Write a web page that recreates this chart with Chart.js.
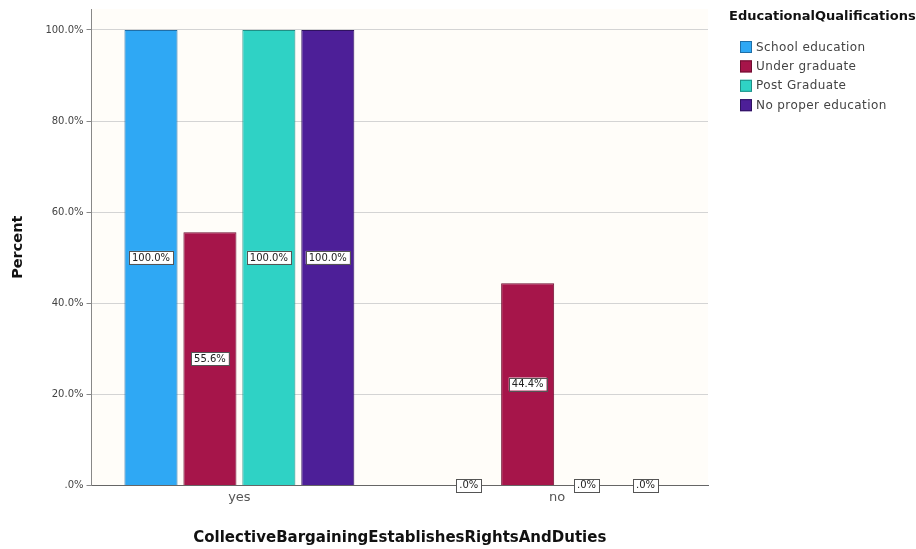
<!DOCTYPE html>
<html>
<head>
<meta charset="utf-8">
<script src="https://cdn.jsdelivr.net/npm/chart.js@4.4.1/dist/chart.umd.min.js"></script>
<style>
  html, body { margin: 0; padding: 0; background: #fff; }
  #wrap { width: 916px; height: 549px; }
</style>
</head>
<body>
<div id="wrap"><canvas id="grafico" width="916" height="549"></canvas></div>
<script>
const categorias = ['yes', 'no'];
const escolar = [100, 0];
const graduacao = [55.6, 44.4];
const posGraduacao = [100, 0];
const semEducacao = [100, 0];
const ticksY = [0, 20, 40, 60, 80, 100];

const cores = ['#2fa8f4', '#a6154a', '#2fd2c5', '#4d1f98'];
const bordas = ['#1f6fa8', '#6e0e30', '#1f8f86', '#2f1260'];
const fonte = '"DejaVu Sans", Verdana, sans-serif';

function formatar(v) {
  if (v === 0) return '.0%';
  return v.toFixed(1) + '%';
}

// o SPSS nao centraliza as categorias igual ao chart.js, entao
// esticamos um pouco a faixa do eixo x (so as posicoes, a linha fica igual)
const ajusteX = {
  id: 'ajusteX',
  afterLayout(chart) {
    const x = chart.scales.x;
    x._startPixel = x.left - 11;
    x._length = (x.right - x.left) + 19;
    x._endPixel = x._startPixel + x._length;
  }
};

// legenda desenhada a mao, no estilo SPSS
const legendaSpss = {
  id: 'legendaSpss',
  afterDraw(chart) {
    const c = chart.ctx;
    c.save();
    c.font = 'bold 13px ' + fonte;
    c.fillStyle = '#111';
    c.textBaseline = 'middle';
    c.textAlign = 'left';
    c.fillText('EducationalQualifications', 729, 17);
    c.font = '12px ' + fonte;
    c.letterSpacing = '0.4px';
    chart.data.datasets.forEach((ds, i) => {
      const y = 47 + i * 19.4;
      c.fillStyle = ds.backgroundColor;
      c.fillRect(740, y - 6, 12, 12);
      c.strokeStyle = ds.borderColor;
      c.lineWidth = 1;
      c.strokeRect(740.5, y - 5.5, 11, 11);
      c.fillStyle = '#444';
      c.fillText(ds.label, 756, y + 0.5);
    });
    c.restore();
  }
};

// rotulos com caixa branca no meio da barra
const rotulos = {
  id: 'rotulos',
  afterDatasetsDraw(chart) {
    const c = chart.ctx;
    c.save();
    c.font = '10px ' + fonte;
    c.textAlign = 'center';
    c.textBaseline = 'middle';
    chart.data.datasets.forEach((ds, i) => {
      chart.getDatasetMeta(i).data.forEach((bar, j) => {
        const txt = formatar(ds.data[j]);
        const y = (bar.y + bar.base) / 2;
        const w = c.measureText(txt).width + 6;
        const h = 13;
        c.fillStyle = '#fff';
        c.fillRect(bar.x - w / 2, y - h / 2, w, h);
        c.strokeStyle = '#555';
        c.lineWidth = 1;
        c.strokeRect(Math.round(bar.x - w / 2) + 0.5, Math.round(y - h / 2) + 0.5, Math.round(w), h);
        c.fillStyle = '#222';
        c.fillText(txt, bar.x, y + 0.5);
      });
    });
    c.restore();
  }
};

const fundo = {
  id: 'fundo',
  beforeDraw(chart) {
    const a = chart.chartArea;
    const c = chart.ctx;
    c.save();
    c.fillStyle = '#fffdf9';
    c.fillRect(a.left, a.top, a.right - a.left, a.bottom - a.top);
    c.restore();
  }
};

const nomes = ['School education', 'Under graduate', 'Post Graduate', 'No proper education'];
const series = [escolar, graduacao, posGraduacao, semEducacao];

new Chart(document.getElementById('grafico'), {
  type: 'bar',
  data: {
    labels: categorias,
    datasets: series.map((d, i) => ({
      label: nomes[i],
      data: d,
      backgroundColor: cores[i],
      borderColor: bordas[i],
      borderWidth: 1,
      categoryPercentage: 0.742,
      barPercentage: 0.9
    }))
  },
  options: {
    responsive: false,
    animation: false,
    layout: { padding: { top: 0, right: 208, bottom: 2, left: 10 } },
    plugins: {
      legend: { display: false },
      tooltip: { enabled: false }
    },
    scales: {
      x: {
        grid: { display: false, drawTicks: false },
        border: { color: '#666', width: 1 },
        ticks: {
          color: '#555',
          padding: 4,
          font: { family: fonte, size: 13 }
        },
        title: {
          display: true,
          text: 'CollectiveBargainingEstablishesRightsAndDuties',
          color: '#111',
          font: { family: fonte, size: 15, weight: 'bold' },
          padding: { top: 20, bottom: 0 }
        }
      },
      y: {
        min: 0,
        max: 104.6,
        afterBuildTicks(axis) {
          axis.ticks = ticksY.map(v => ({ value: v }));
        },
        grid: { color: '#d4d4d4', drawTicks: true, tickLength: 5, tickColor: '#888' },
        border: { color: '#888', width: 1 },
        ticks: {
          color: '#444',
          padding: 3,
          font: { family: fonte, size: 10 },
          callback: v => formatar(v)
        },
        title: {
          display: true,
          text: 'Percent',
          color: '#111',
          font: { family: fonte, size: 14.5, weight: 'bold' },
          padding: { top: 0, bottom: 15 }
        }
      }
    }
  },
  plugins: [ajusteX, fundo, rotulos, legendaSpss]
});
</script>
</body>
</html>
